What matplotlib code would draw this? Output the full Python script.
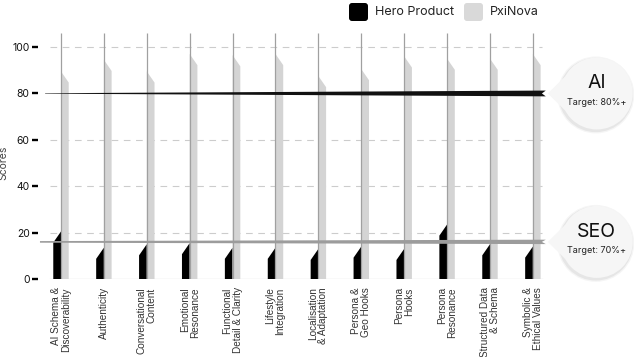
import matplotlib
matplotlib.use('Agg')
import matplotlib.pyplot as plt
import matplotlib.transforms as mtransforms
from matplotlib.patches import Circle, Polygon, FancyBboxPatch

# data
categories = ['AI Schema &\nDiscoverability', 'Authenticity', 'Conversational\nContent',
              'Emotional\nResonance', 'Functional\nDetail & Clarity', 'Lifestyle\nIntegration',
              'Localisation\n& Adaptation', 'Persona &\nGeo Hooks', 'Persona\nHooks',
              'Persona\nResonance', 'Structured Data\n& Schema', 'Symbolic &\nEthical Values']
hero_scores = [20.5, 13.5, 15.0, 15.5, 13.5, 13.5, 13.0, 14.0, 13.0, 23.5, 15.0, 14.0]
pxinova_scores = [89.5, 94.5, 89.5, 97.0, 96.5, 97.0, 87.5, 90.5, 96.0, 95.0, 95.0, 97.0]
series_names = ['Hero Product', 'PxiNova']
target_names = ['AI', 'SEO']
target_levels = [80, 16]
target_texts = ['Target: 80%+', 'Target: 70%+']
y_ticks = [0, 20, 40, 60, 80, 100]

plt.rcParams['font.family'] = ['Inter', 'DejaVu Sans']

fig = plt.figure(figsize=(6.34, 3.57), dpi=100)
ax = fig.add_axes([38 / 634, 78 / 357, 522 / 634, 247 / 357])
ax.set_xlim(-0.536, 11.632)
ax.set_ylim(0, 106.5)

bw = 0.18
slant = 4.8
hero_col = 'black'
pxi_col = '#d4d4d4'

# grid + baseline
for t in y_ticks:
    if t in (0, 80):
        continue
    ax.plot([-0.256, 11.21], [t, t], color='#cccccc', lw=0.8, dashes=(6, 5), zorder=1)
ax.plot([-0.256, 11.21], [0, 0], color='#e4e4e4', lw=1.0, zorder=1)

# bars with slanted tops
for i, (h, p) in enumerate(zip(hero_scores, pxinova_scores)):
    ax.fill([i - bw, i - bw, i, i], [0, h - slant, h, 0], color=hero_col, lw=0, zorder=2)
    ax.fill([i, i, i + bw, i + bw], [0, p, p - slant, 0], color=pxi_col, lw=0, zorder=2)
ax.vlines(range(len(categories)), 0, 106, color='#a0a0a0', lw=0.9, zorder=3)


def tapered(y, x0, x1, h0, h1, color):
    notch = 0.09
    xs = [x0, x1, x1 - notch, x1, x0]
    ys = [y + h0, y + h1, y, y - h1, y - h0]
    ax.fill(xs, ys, color=color, lw=0, zorder=4, clip_on=False)


tapered(target_levels[0], -0.37, 11.3, 0.1, 1.25, '#111111')
tapered(target_levels[1], -0.49, 11.3, 0.35, 0.95, '#9c9c9c')

# bubbles
for name, lvl, txt in zip(target_names, target_levels, target_texts):
    tr = fig.dpi_scale_trans + mtransforms.ScaledTranslation(12.49, lvl, ax.transData)
    for r, a in [(0.385, 0.04), (0.372, 0.06)]:
        ax.add_patch(Circle((-0.01, -0.015), r, transform=tr, color='black', alpha=a, lw=0,
                            clip_on=False, zorder=5))
    ax.add_patch(Polygon([(-0.49, 0), (-0.318, 0.169), (-0.318, -0.169)], closed=True,
                         transform=tr, color='#f6f6f6', lw=0, clip_on=False, zorder=6))
    ax.add_patch(Circle((0, 0), 0.36, transform=tr, color='#f6f6f6', lw=0,
                        clip_on=False, zorder=6))
    ax.text(0, 0.10, name, transform=tr, ha='center', va='center', fontsize=14,
            color='#111111', zorder=7)
    ax.text(0, -0.09, txt, transform=tr, ha='center', va='center', fontsize=6.5,
            color='#222222', zorder=7)

# axes styling
for s in ax.spines.values():
    s.set_visible(False)
ax.set_yticks(y_ticks)
ax.tick_params(axis='y', length=4.5, width=1.7, color='black', pad=1.5, labelsize=7.5,
               labelcolor='#111111')
ax.set_xticks(range(len(categories)))
ax.set_xticklabels(categories, rotation=90, fontsize=7.2, family=['Liberation Sans'],
                   color='#333333', linespacing=1.0, multialignment='right')
ax.tick_params(axis='x', length=0, pad=6)
ax.set_ylabel('Scores', fontsize=7.5, color='#444444')
ax.yaxis.set_label_coords(-0.056, 0.47)

# legend drawn at the top
for x0, col, name in zip([3.49, 4.64], [hero_col, '#d9d9d9'], series_names):
    fig.patches.append(FancyBboxPatch((x0, 3.36), 0.19, 0.18,
                                      boxstyle='round,pad=0,rounding_size=0.03',
                                      transform=fig.dpi_scale_trans, color=col, lw=0))
    fig.text(x0 + 0.26, 3.45, name, transform=fig.dpi_scale_trans, va='center',
             fontsize=9, color='#222222')

fig.savefig('out.png', dpi=100)
